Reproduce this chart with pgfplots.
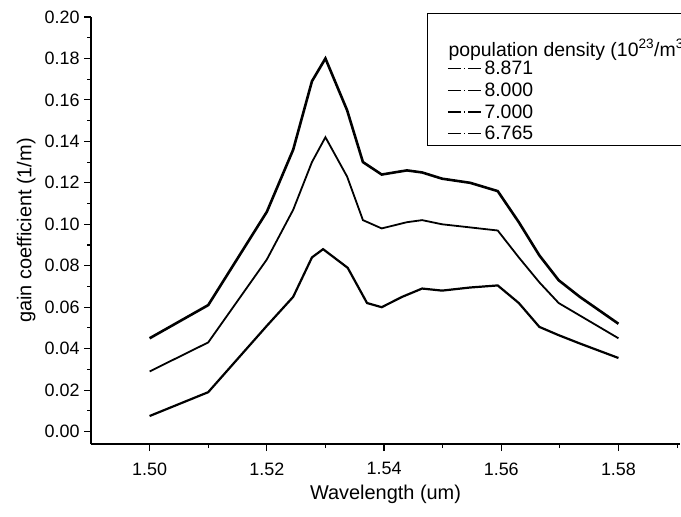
\documentclass[border=0pt]{standalone}
\usepackage{fontspec}
\setmainfont{Liberation Sans}
\usepackage{pgfplots}
\usepackage{pgfplotstable}
\pgfplotsset{compat=1.18}

% gain coefficient vs wavelength, one table per population density
\pgfplotstableread{
x       y
1.5000  0.045
1.5100  0.061
1.5200  0.106
1.5245  0.136
1.5277  0.169
1.5300  0.180
1.5337  0.155
1.5364  0.130
1.5396  0.124
1.5439  0.126
1.5465  0.125
1.5499  0.122
1.5547  0.120
1.5594  0.116
1.5630  0.101
1.5665  0.085
1.5698  0.073
1.5734  0.065
1.5800  0.052
}\densA
\pgfplotstableread{
x       y
1.5000  0.029
1.5100  0.043
1.5200  0.083
1.5245  0.107
1.5277  0.130
1.5300  0.142
1.5337  0.123
1.5364  0.102
1.5396  0.098
1.5439  0.101
1.5465  0.102
1.5499  0.100
1.5594  0.097
1.5630  0.084
1.5665  0.072
1.5698  0.062
1.5734  0.056
1.5800  0.045
}\densB
\pgfplotstableread{
x       y
1.5000  0.0075
1.5100  0.019
1.5200  0.051
1.5245  0.065
1.5277  0.084
1.5296  0.088
1.5338  0.079
1.5371  0.062
1.5396  0.060
1.5431  0.065
1.5465  0.069
1.5499  0.068
1.5547  0.0695
1.5594  0.0705
1.5630  0.062
1.5665  0.0505
1.5698  0.0465
1.5734  0.0425
1.5800  0.0355
}\densC

\begin{document}
\begin{tikzpicture}
\begin{axis}[
  name=ax,
  scale only axis,
  width=589bp, height=427bp,
  xmin=1.49, xmax=1.5905,
  ymin=-0.006, ymax=0.20,
  axis x line*=bottom, axis y line*=left,
  axis line style={line width=1.4bp, -},
  xtick={1.50,1.52,1.54,1.56,1.58},
  minor xtick={1.51,1.53,1.55,1.57,1.59},
  ytick={0,0.02,0.04,0.06,0.08,0.10,0.12,0.14,0.16,0.18,0.20},
  minor ytick={0.01,0.03,0.05,0.07,0.09,0.11,0.13,0.15,0.17,0.19},
  tick align=outside,
  major tick length=7bp, minor tick length=4bp,
  tick style={black, line width=1.1bp},
  /pgf/number format/assume math mode=true,
  /pgf/number format/fixed,
  /pgf/number format/fixed zerofill,
  /pgf/number format/precision=2,
  ticklabel style={font=\fontsize{18}{21}\selectfont},
  xticklabel style={yshift=-8bp},
  yticklabel style={xshift=-1bp},
  label style={font=\fontsize{20}{24}\selectfont},
  xlabel={Wavelength (um)},
  ylabel={gain coefficient (1/m)},
  xlabel style={at={(axis description cs:0.5,0)}, anchor=center, yshift=-50bp},
  ylabel style={at={(axis description cs:-0.11,0.5)}, anchor=center},
  legend style={at={(axis description cs:0.5705,1.0094)}, anchor=north west,
    draw=black, line width=0.8bp, fill=white, inner xsep=20bp,
    font=\fontsize{19.5}{22}\selectfont, cells={anchor=west}, row sep=2.5bp},
  legend image code/.code={\draw[#1, line width=1.1bp,
    dash pattern=on 13bp off 3bp on 1.5bp off 3bp] (0bp,0bp) -- (34bp,0bp);},
]
\addlegendimage{empty legend}
\addlegendentry{\hspace*{-36bp}\raisebox{-3bp}[36bp][0pt]{population density (10\textsuperscript{23}/m\textsuperscript{3})}}
\addplot[black, line width=2.6bp] table {\densA};
\addlegendentry{8.871}
\addplot[black, line width=1.8bp] table {\densB};
\addlegendentry{8.000}
\addplot[black, line width=2.2bp] table {\densC};
\addlegendentry{7.000}
\addlegendimage{black}
\addlegendentry{6.765\rule[-5bp]{0pt}{0pt}}
\end{axis}
\pgfresetboundingbox
\path[use as bounding box] ([xshift=-91bp,yshift=-73bp]ax.south west)
  rectangle ([xshift=1bp,yshift=17bp]ax.north east);
\end{tikzpicture}
\end{document}
